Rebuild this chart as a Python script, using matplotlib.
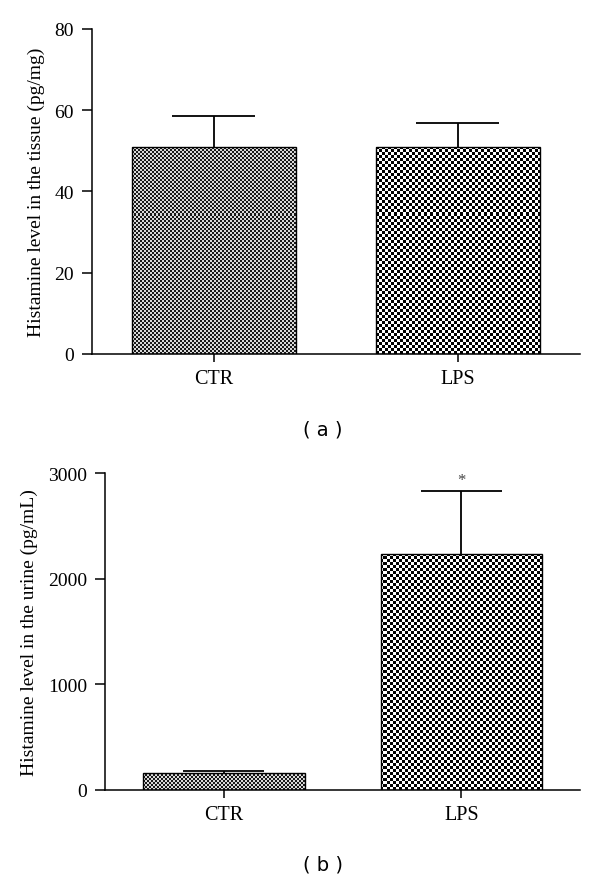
import numpy as np
import matplotlib
matplotlib.use("Agg")
import matplotlib.pyplot as plt

# values
groups = ["CTR", "LPS"]
tissue_mean = [51.0, 51.0]
tissue_err = [7.5, 5.8]
urine_mean = [165, 2230]
urine_err = [18, 600]
urine_sig = ["", "*"]

tissue_ticks = [0, 20, 40, 60, 80]
urine_ticks = [0, 1000, 2000, 3000]

plt.rcParams['font.family'] = ['Liberation Serif', 'DejaVu Serif']


# fills a bar with a pixel checkerboard (the texture used by the original)
def checker_fill(ax, bar, cell, dark, light):
    fig = ax.figure
    fig.canvas.draw()
    bb = bar.get_window_extent()
    # pad the image to whole pixels so the checks stay square and even
    px0, py0 = np.floor(bb.x0), np.floor(bb.y0)
    px1, py1 = np.ceil(bb.x1), np.ceil(bb.y1)
    nx, ny = int(px1 - px0), int(py1 - py0)
    ii, jj = np.indices((ny, nx))
    img = np.where(((ii // cell) + (jj // cell)) % 2 == 0, dark, light)
    inv = ax.transData.inverted()
    (dx0, dy0), (dx1, dy1) = inv.transform([(px0, py0), (px1, py1)])
    im = ax.imshow(img, cmap='gray', vmin=0, vmax=1, interpolation='none',
                   extent=[dx0, dx1, dy0, dy1], aspect='auto', zorder=2,
                   origin='lower')
    im.set_clip_path(bar)


# one-sided (upper) error bar with a cap
def upper_err(ax, x, mean, err, capw):
    for xi, m, e in zip(x, mean, err):
        ax.vlines(xi, m, m + e, color='black', linewidth=1.3, zorder=1)
        ax.hlines(m + e, xi - capw, xi + capw, color='black', linewidth=1.3, zorder=1)


def style_axes(ax, ymax, ticks, ylabel):
    ax.set_xlim(-0.5, 1.5)
    ax.set_ylim(0, ymax)
    ax.set_yticks(ticks)
    ax.set_xticks(range(len(groups)))
    ax.set_xticklabels(groups)
    for s in ['top', 'right']:
        ax.spines[s].set_visible(False)
    for s in ['left', 'bottom']:
        ax.spines[s].set_linewidth(1.1)
    ax.tick_params(axis='y', direction='out', length=7, width=1.1, pad=6, labelsize=14)
    ax.tick_params(axis='x', direction='out', length=6, width=1.1, pad=5, labelsize=14.5)
    ax.set_ylabel(ylabel, fontsize=14, labelpad=7)


fig = plt.figure(figsize=(6, 8.78), dpi=100)

ax1 = fig.add_axes([0.1533, 0.5957, 0.8133, 0.3702])
ax2 = fig.add_axes([0.175, 0.0991, 0.7917, 0.3610])

x = np.arange(len(groups))

bars1 = ax1.bar(x, tissue_mean, width=0.67, edgecolor='black',
                linewidth=1.0, zorder=3, fill=False)
upper_err(ax1, x, tissue_mean, tissue_err, 0.17)
style_axes(ax1, 80, tissue_ticks, "Histamine level in the tissue (pg/mg)")

bars2 = ax2.bar(x, urine_mean, width=0.68, edgecolor='black',
                linewidth=1.0, zorder=3, fill=False)
upper_err(ax2, x, urine_mean, urine_err, 0.17)
for xi, m, e, s in zip(x, urine_mean, urine_err, urine_sig):
    if s:
        ax2.text(xi, m + e + 30, s, ha='center', va='bottom', fontsize=12, color='#444444')
style_axes(ax2, 3000, urine_ticks, "Histamine level in the urine (pg/mL)")

for bars in (bars1, bars2):
    checker_fill(bars[0].axes, bars[0], 2, 0.1, 0.85)
    checker_fill(bars[1].axes, bars[1], 3, 0.0, 1.0)

fig.text(323 / 600, 1 - 430 / 878, "( a )", ha='center', va='center', fontsize=14,
         family=['DejaVu Sans'])
fig.text(323 / 600, 1 - 865 / 878, "( b )", ha='center', va='center', fontsize=14,
         family=['DejaVu Sans'])

fig.savefig("out.png", dpi=100)
